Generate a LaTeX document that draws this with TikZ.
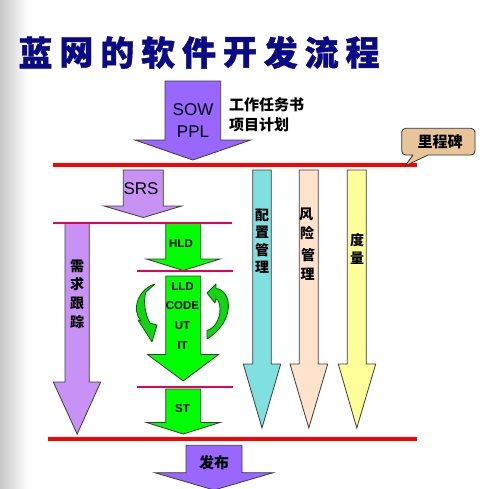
\documentclass[tikz,border=0pt]{standalone}
\usepackage{fontspec}
\setmainfont{Liberation Sans}
\newfontfamily\cjk{Noto Sans CJK SC}
\newfontfamily\cjktitle{Noto Sans CJK SC}[BoldFeatures={FakeBold=1.2}]
\definecolor{sowpurple}{RGB}{153,102,255}
\definecolor{lightpurple}{RGB}{200,145,245}
\definecolor{arrowgreen}{RGB}{0,255,0}
\definecolor{cyclegreen}{RGB}{20,210,20}
\definecolor{cycleline}{RGB}{0,100,0}
\definecolor{tealfill}{RGB}{128,224,224}
\definecolor{peachfill}{RGB}{255,226,204}
\definecolor{yellowfill}{RGB}{255,255,153}
\definecolor{calloutfill}{RGB}{232,196,152}
\definecolor{titleblue}{RGB}{10,10,135}
\definecolor{lineRed}{RGB}{255,0,0}
\definecolor{lineMag}{RGB}{230,0,92}
\definecolor{outline}{RGB}{60,60,60}
\newcommand\barrow[8]{%
  \filldraw[arrowline, fill=#1] (#2,#4) -- (#3,#4) -- (#3,#5) -- (#7,#5) -- ({(#2+#3)/2},#8) -- (#6,#5) -- (#2,#5) -- cycle;}
\begin{document}
\begin{tikzpicture}[x=1pt,y=-1pt,
  arrowline/.style={draw=outline, line width=0.8pt, line join=miter},
  curvearrow/.style={draw=cycleline, fill=cyclegreen, line width=0.8pt, line join=round},
  redline/.style={draw=lineRed, line width=3.2pt},
  magline/.style={draw=lineMag, line width=2.2pt},
  titlech/.style={font=\cjktitle\bfseries\fontsize{34}{34}\selectfont, text=titleblue, inner sep=0pt},
  cjkv/.style={font=\cjk\bfseries\fontsize{14}{14}\selectfont, inner sep=0pt},
  cjkh/.style={font=\cjk\bfseries\fontsize{15}{15}\selectfont, inner sep=0pt},
  latin/.style={font=\fontsize{17}{17}\selectfont, inner sep=0pt},
  latinb/.style={font=\bfseries\fontsize{11.5}{12}\selectfont, inner sep=0pt}]
\useasboundingbox (0,0) rectangle (500,488);
\fill[white] (0,0) rectangle (500,488);
\shade[left color=black!22, right color=white] (0,0) rectangle (28,488);
% title
\foreach \ch [count=\i from 0] in {蓝,网,的,软,件,开,发,流,程} {
  \node[titlech] (t\i) at ({35.5+\i*40.875},52.5) {\ch};
}
% block arrows
\barrow{sowpurple}{165}{220.7}{81}{140}{135}{250.7}{160}
\barrow{lightpurple}{123.3}{163.3}{170}{206}{104}{181.7}{217.5}
\barrow{lightpurple}{65}{89.3}{223}{382}{53.3}{100.7}{434}
\barrow{arrowgreen}{165.7}{200.7}{223}{259}{146.5}{220}{270.5}
\barrow{arrowgreen}{165.7}{200.7}{276}{354.5}{147.5}{218.5}{381}
\barrow{arrowgreen}{165.7}{200.7}{389}{422.5}{146.5}{220}{434}
\barrow{sowpurple}{186}{242}{445.3}{472.7}{154.7}{273.3}{490}
\barrow{tealfill}{252.7}{271.3}{170}{364}{243.3}{280.7}{428}
\barrow{peachfill}{299.3}{318.3}{170}{364}{290}{327.7}{428}
\barrow{yellowfill}{347.3}{366.3}{170}{364}{338.3}{375.7}{428}
% cycle arrows
\filldraw[curvearrow] (155,284) .. controls (138,289) and (131,310) .. (141,321) -- (138,320) -- (152,342) -- (157,325) -- (150,323) .. controls (145,315) and (143,300) .. (146,292) -- cycle;
\filldraw[curvearrow] (207,293) -- (216,284) -- (216,288.5) .. controls (232,290) and (236,321) .. (207,339) -- (207,330.5) .. controls (223,325) and (222,301) .. (216,298.5) -- (215,303) -- cycle;
% lines
\coordinate (r1a) at (53.3,165); \coordinate (r1b) at (416.7,165);
\coordinate (r2a) at (48,439); \coordinate (r2b) at (416.7,439);
\coordinate (m1a) at (53,222.7); \coordinate (m1b) at (231.7,222.7);
\coordinate (m2a) at (137.3,271); \coordinate (m2b) at (232.7,271);
\coordinate (m3a) at (137.3,387.3); \coordinate (m3b) at (232.7,387.3);
\draw[redline] (r1a) -- (r1b);
\draw[redline] (r2a) -- (r2b);
\draw[magline] (m1a) -- (m1b);
\draw[magline] (m2a) -- (m2b);
\draw[magline] (m3a) -- (m3b);
% callout
\filldraw[draw=black!80, fill=calloutfill, line width=0.8pt, line join=round]
  (413,155) [rounded corners=4pt] -- (401.7,155) -- (401.7,128.3) -- (475,128.3) -- (475,155) [sharp corners] -- (428,155) -- (405,166) -- cycle;
\node[cjkh] (ms) at (440,142) {里程碑};
% texts
\node[latin] (sow) at (193,110) {SOW};
\node[latin] (ppl) at (193,131.5) {PPL};
\node[cjkh, anchor=west] (gz) at (229,104.3) {工作任务书};
\node[cjkh, anchor=west] (xm) at (229,125) {项目计划};
\node[latin] (srs) at (141,188.5) {SRS};
\node[latinb] (hld) at (181,244) {HLD};
\node[latinb] (lld) at (182.5,286.5) {LLD};
\node[latinb] (code) at (182.5,306) {CODE};
\node[latinb] (ut) at (182.5,326) {UT};
\node[latinb] (it) at (182.5,346) {IT};
\node[latinb] (st) at (182.5,409) {ST};
\node[cjkh] (fb) at (214,463) {发布};
\foreach \ch/\yy [count=\i] in {需/266.7,求/284.5,跟/303,踪/322}
  \node[cjkv] (xq\i) at (77,\yy) {\ch};
\foreach \ch/\yy [count=\i] in {配/215,置/232.5,管/250,理/267.5}
  \node[cjkv] (pz\i) at (262,\yy) {\ch};
\foreach \ch/\xx/\yy [count=\i] in {风/306/214,险/307/233,管/308/255.5,理/307.5/274}
  \node[cjkv] (fx\i) at (\xx,\yy) {\ch};
\foreach \ch/\yy [count=\i] in {度/240,量/258}
  \node[cjkv] (dl\i) at (357,\yy) {\ch};
\end{tikzpicture}
\end{document}
